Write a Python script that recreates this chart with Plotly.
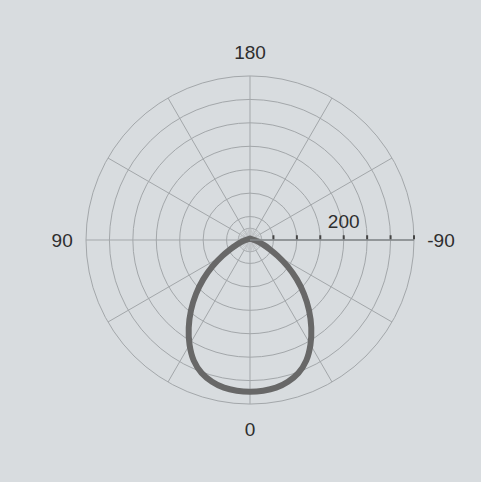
import plotly.graph_objects as go

# Beam pattern values (symmetric around 0 deg)
angles = [0, 5, 10, 15, 20, 25, 30, 35, 40, 45, 50, 55, 60, 65, 70, 75, 80, 85, 90,
          100, 120, 150, 180, 210, 240, 260,
          270, 275, 280, 285, 290, 295, 300, 305, 310, 315, 320, 325, 330, 335, 340, 345, 350, 355, 360]
radii = [324, 323, 320, 313, 302, 284, 258, 228, 196, 163, 130, 98, 68, 46, 32, 22, 16, 12, 9,
         6, 4, 3, 3, 3, 4, 6,
         9, 12, 16, 22, 32, 46, 68, 98, 130, 163, 196, 228, 258, 284, 302, 313, 320, 323, 324]

# Axis ticks
angular_tickvals = [0, 30, 60, 90, 120, 150, 180, 210, 240, 270, 300, 330]
angular_ticktext = ["0", "", "", "90", "", "", "180", "", "", "-90", "", ""]
radial_tickvals = [50, 100, 150, 200, 250, 300, 350]
radial_ticktext = ["", "", "", "200", "", "", ""]
radial_max = 350

# Small inner ring with fine spokes (grid decoration)
inner_ring_r = 25
inner_ring_theta = list(range(0, 361, 5))
spoke_angles = list(range(0, 360, 10))

BG = "#d8dcdf"
GRID = "#a3a7aa"

fig = go.Figure()

fig.add_trace(go.Scatterpolar(
    r=[inner_ring_r] * len(inner_ring_theta), theta=inner_ring_theta,
    mode="lines", line=dict(color=GRID, width=1), hoverinfo="skip", showlegend=False))

sp_r, sp_t = [], []
for a in spoke_angles:
    sp_r += [0, inner_ring_r, None]
    sp_t += [a, a, None]
fig.add_trace(go.Scatterpolar(
    r=sp_r, theta=sp_t, mode="lines", line=dict(color="#c2c5c8", width=1),
    hoverinfo="skip", showlegend=False, connectgaps=False))

fig.add_trace(go.Scatterpolar(
    r=radii, theta=angles, mode="lines",
    line=dict(color="#686868", width=6, shape="spline", smoothing=0.6),
    showlegend=False))

W, H = 481, 482
cx, cy, R = 250, 240, 164

fig.update_layout(
    width=W, height=H,
    margin=dict(l=0, r=0, t=0, b=0),
    paper_bgcolor=BG,
    font=dict(family="Liberation Sans, Arial, sans-serif", size=19, color="#2e2e2e"),
    polar=dict(
        domain=dict(x=[(cx - R) / W, (cx + R) / W], y=[1 - (cy + R) / H, 1 - (cy - R) / H]),
        bgcolor=BG,
        angularaxis=dict(
            rotation=-90, direction="clockwise",
            tickmode="array", tickvals=angular_tickvals, ticktext=angular_ticktext,
            ticks="outside", ticklen=9, tickcolor="rgba(0,0,0,0)",
            showline=True, linecolor=GRID, linewidth=1,
            gridcolor=GRID, gridwidth=1,
            tickfont=dict(size=19, color="#2e2e2e"),
        ),
        radialaxis=dict(
            range=[0, radial_max], angle=0, side="counterclockwise",
            tickmode="array", tickvals=radial_tickvals, ticktext=radial_ticktext,
            ticks="outside", ticklen=4, tickwidth=2, tickcolor="#444",
            showline=True, linecolor="#85888b", linewidth=1.5,
            gridcolor=GRID, gridwidth=1,
            tickangle=0,
            tickfont=dict(size=19, color="#2e2e2e"),
        ),
    ),
)

fig.write_html("out.html", config={"displayModeBar": False},
               post_script="document.body.style.margin='0px';")
